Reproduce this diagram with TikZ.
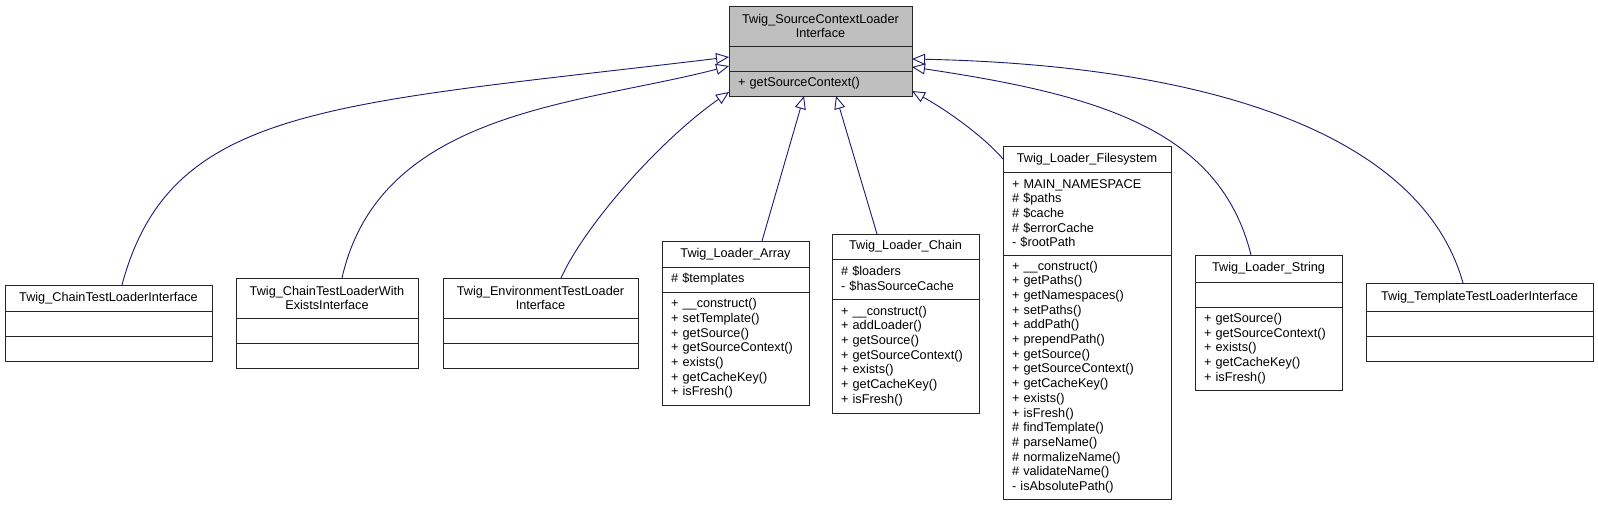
\documentclass[tikz,border=0pt]{standalone}
\usepackage{fontspec}
\setmainfont{Liberation Sans}
\usetikzlibrary{positioning,arrows.meta}
\definecolor{edgeblue}{HTML}{191970}
\definecolor{basegray}{HTML}{BFBFBF}

\begin{document}
\begin{tikzpicture}
      [x=1pt, y=-1pt,
      every node/.style={font=\fontsize{12.7}{14.7}\selectfont},
      cls/.style={draw=black!85, line width=1pt, fill=white, inner sep=0pt, outer sep=0pt, align=center, anchor=north west},
      part/.style={draw=black!85, line width=1pt, fill=white, inner xsep=9pt, inner ysep=0pt, outer sep=0pt, align=left, text width=#1},
      inherit/.style={edgeblue, line width=0.9pt, -{Triangle[open, length=13pt, width=11pt, fill=white]}},
      ]
      \useasboundingbox (0,0) rectangle (1598,507);

      \node[cls, fill=basegray, minimum width=183pt, minimum height=40pt] (src) at (729,6) {Twig\_SourceContextLoader\\Interface};
      \node[part=165pt, fill=basegray, minimum height=25pt, below=0pt of src] (src-a) {};
      \node[part=165pt, fill=basegray, minimum height=25pt, below=0pt of src-a] (src-m) {+ getSourceContext()};

      \node[cls, minimum width=207pt, minimum height=26pt] (chaintest) at (5,285) {Twig\_ChainTestLoaderInterface};
      \node[part=189pt, minimum height=25pt, below=0pt of chaintest] (chaintest-a) {};
      \node[part=189pt, minimum height=25pt, below=0pt of chaintest-a] (chaintest-m) {};

      \node[cls, minimum width=182pt, minimum height=40pt] (exists) at (236,278) {Twig\_ChainTestLoaderWith\\ExistsInterface};
      \node[part=164pt, minimum height=25pt, below=0pt of exists] (exists-a) {};
      \node[part=164pt, minimum height=25pt, below=0pt of exists-a] (exists-m) {};

      \node[cls, minimum width=195pt, minimum height=40pt] (envtest) at (443,278) {Twig\_EnvironmentTestLoader\\Interface};
      \node[part=177pt, minimum height=25pt, below=0pt of envtest] (envtest-a) {};
      \node[part=177pt, minimum height=25pt, below=0pt of envtest-a] (envtest-m) {};

      \node[cls, minimum width=147pt, minimum height=26pt] (array) at (662,241) {Twig\_Loader\_Array};
      \node[part=129pt, minimum height=25pt, below=0pt of array] (array-a) {\# \$templates};
      \node[part=129pt, minimum height=113pt, below=0pt of array-a] (array-m) {+ \_\_construct()\\+ setTemplate()\\+ getSource()\\+ getSourceContext()\\+ exists()\\+ getCacheKey()\\+ isFresh()};

      \node[cls, minimum width=147pt, minimum height=25pt] (chain) at (832,234) {Twig\_Loader\_Chain};
      \node[part=129pt, minimum height=40pt, below=0pt of chain] (chain-a) {\# \$loaders\\- \$hasSourceCache};
      \node[part=129pt, minimum height=114pt, below=0pt of chain-a] (chain-m) {+ \_\_construct()\\+ addLoader()\\+ getSource()\\+ getSourceContext()\\+ exists()\\+ getCacheKey()\\+ isFresh()};

      \node[cls, minimum width=168pt, minimum height=26pt] (fs) at (1003,146) {Twig\_Loader\_Filesystem};
      \node[part=150pt, minimum height=83pt, below=0pt of fs] (fs-a) {+ MAIN\_NAMESPACE\\\# \$paths\\\# \$cache\\\# \$errorCache\\- \$rootPath};
      \node[part=150pt, minimum height=244pt, below=0pt of fs-a] (fs-m) {+ \_\_construct()\\+ getPaths()\\+ getNamespaces()\\+ setPaths()\\+ addPath()\\+ prependPath()\\+ getSource()\\+ getSourceContext()\\+ getCacheKey()\\+ exists()\\+ isFresh()\\\# findTemplate()\\\# parseName()\\\# normalizeName()\\\# validateName()\\- isAbsolutePath()};

      \node[cls, minimum width=147pt, minimum height=27pt] (string) at (1195,255) {Twig\_Loader\_String};
      \node[part=129pt, minimum height=25pt, below=0pt of string] (string-a) {};
      \node[part=129pt, minimum height=83pt, below=0pt of string-a] (string-m) {+ getSource()\\+ getSourceContext()\\+ exists()\\+ getCacheKey()\\+ isFresh()};

      \node[cls, minimum width=227pt, minimum height=28pt] (template) at (1366,283) {Twig\_TemplateTestLoaderInterface};
      \node[part=209pt, minimum height=25pt, below=0pt of template] (template-a) {};
      \node[part=209pt, minimum height=25pt, below=0pt of template-a] (template-m) {};

      \draw[inherit] ([xshift=13.5pt]chaintest.north) .. controls (170,105) and (329,105) .. ([yshift=1.5pt]src-a.west);
      \draw[inherit] ([xshift=15pt]exists.north) .. controls (380,110) and (579,105) .. ([yshift=-7.5pt]src-a.west);
      \draw[inherit] ([xshift=20.5pt]envtest.north) .. controls (585,225) and (660,140) .. ([yshift=-8.5pt]src-m.west);
      \draw[inherit] ([xshift=26.5pt]array.north) -- ([xshift=-16.5pt]src-m.south);
      \draw[inherit] ([xshift=-28.5pt]chain.north) -- ([xshift=15.5pt]src-m.south);
      \draw[inherit] (fs.west) .. controls (985,138) and (950,112) .. ([yshift=-7.5pt]src-m.east);
      \draw[inherit] ([xshift=-17.5pt]string.north) .. controls (1220,130) and (1100,95) .. ([yshift=-8.5pt]src-a.east);
      \draw[inherit] ([xshift=-16.5pt]template.north) .. controls (1420,130) and (1200,65) .. ([yshift=-0.5pt]src-a.east);
    \end{tikzpicture}
\end{document}
